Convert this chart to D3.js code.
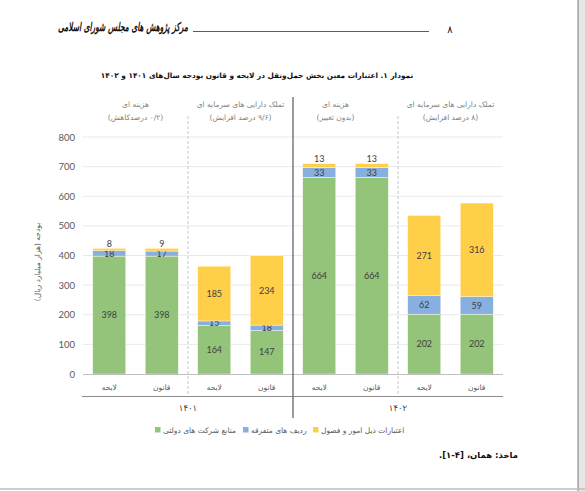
<!DOCTYPE html>
<html>
<head>
<meta charset="utf-8">
<script src="https://cdn.jsdelivr.net/npm/d3@7"></script>
<style>
html,body{margin:0;padding:0;background:#fff;}
svg{display:block;}
</style>
</head>
<body>
<svg id="chart" width="585" height="491"></svg>
<script>
// ---- data ----
const categories = ["لایحه","قانون","لایحه","قانون","لایحه","قانون","لایحه","قانون"];
const seriesNames = ["منابع شرکت های دولتی","ردیف های متفرقه","اعتبارات ذیل امور و فصول"];
const greenValues  = [398, 398, 164, 147, 664, 664, 202, 202];
const blueValues   = [18, 17, 15, 18, 33, 33, 62, 59];
const yellowValues = [8, 9, 185, 234, 13, 13, 271, 316];
const yTicks = [0,100,200,300,400,500,600,700,800];
const years = ["۱۴۰۱","۱۴۰۲"];
const groupTitles = ["هزینه ای","تملک دارایی های سرمایه ای","هزینه ای","تملک دارایی های سرمایه ای"];
const groupNotes = ["(۰/۲ درصدکاهش)","(۹/۶ درصد افزایش)","(بدون تغییر)","(۸ درصد افزایش)"];
const chartTitle = "نمودار ۱. اعتبارات معین بخش حمل‌ونقل در لایحه و قانون بودجه سال‌های ۱۴۰۱ و ۱۴۰۲";
const headerText = "مرکز پژوهش های مجلس شورای اسلامی";
const pageNumber = "۸";
const yAxisTitle = "بودجه (هزار میلیارد ریال)";
const sourceText = "ماخذ: همان، [۴-۱].";

const colors = ["#93c47a","#87afdf","#ffcf4a"];
const fa = "'DejaVu Sans', sans-serif";
const num = "Lato, 'Open Sans', sans-serif";

const svg = d3.select("#chart");

// page border
svg.append("rect").attr("x",578).attr("y",0).attr("width",7).attr("height",491).attr("fill","#e6e6e6");
svg.append("line").attr("x1",578).attr("x2",578).attr("y1",0).attr("y2",491).attr("stroke","#7a7a7a").attr("stroke-width",1);
svg.append("line").attr("x1",0).attr("x2",585).attr("y1",489).attr("y2",489).attr("stroke","#bdbdbd").attr("stroke-width",1.5);

function fit(sel, w){
  const n = sel.node();
  const cur = n.getComputedTextLength();
  if(cur>0){
    const fs = parseFloat(sel.attr("font-size"));
    sel.attr("font-size", fs*w/cur);
  }
  return sel;
}

// header (calligraphic look approximated: stretched vertically)
const hg = svg.append("g").attr("transform","translate(188,31) scale(1,1.6)");
fit(hg.append("text").attr("x",0).attr("y",0).attr("text-anchor","end")
  .attr("font-family",fa).attr("font-size",12).attr("font-weight","bold").attr("font-style","italic")
  .attr("fill","#111").text(headerText), 130);
svg.append("line").attr("x1",193).attr("x2",429).attr("y1",31.5).attr("y2",31.5).attr("stroke","#333").attr("stroke-width",0.8);
svg.append("text").attr("x",450).attr("y",33).attr("text-anchor","middle")
  .attr("font-family",fa).attr("font-size",10).attr("fill","#222").text(pageNumber);

// title
fit(svg.append("text").attr("x",257).attr("y",78).attr("text-anchor","middle")
  .attr("font-family",fa).attr("font-size",10).attr("font-weight","bold").attr("fill","#111")
  .attr("direction","rtl").text(chartTitle), 313);

// scales
const x = d3.scaleBand().domain(d3.range(categories.length)).range([83,503]).paddingInner(0.37).paddingOuter(0.185);
const y = d3.scaleLinear().domain([0,800]).range([374,137]);

// gridlines
svg.append("g").selectAll("line").data(yTicks.filter(d=>d>0)).join("line")
  .attr("x1",83).attr("x2",503).attr("y1",d=>y(d)).attr("y2",d=>y(d))
  .attr("stroke","#e3e3e3").attr("stroke-width",0.8);

// y axis labels
const yAxis = d3.axisLeft(y).tickValues(yTicks).tickSize(0).tickPadding(8);
const ga = svg.append("g").attr("transform","translate(83,0)").call(yAxis);
ga.select(".domain").remove();
ga.selectAll("text").attr("font-family",num).attr("font-size",9.5).attr("fill","#595959");

// stacked bars
const rows = categories.map((c,i)=>({i, g:greenValues[i], b:blueValues[i], yv:yellowValues[i]}));
const stack = d3.stack().keys(["g","b","yv"]);
const stacked = stack(rows);
const layers = svg.append("g").selectAll("g").data(stacked).join("g").attr("fill",(d,i)=>colors[i]);
layers.selectAll("rect").data(d=>d).join("rect")
  .attr("x",d=>x(d.data.i)).attr("width",x.bandwidth())
  .attr("y",d=>y(d[1])).attr("height",d=>y(d[0])-y(d[1]))
  .attr("stroke","#ffffff").attr("stroke-width",0.4);
layers.each(function(layer, li){
  d3.select(this).selectAll("text").data(layer).join("text")
    .attr("x",d=>x(d.data.i)+x.bandwidth()/2)
    .attr("y",d=>{
      const h = y(d[0])-y(d[1]);
      return (li===2 && h < 6) ? y(d[1]) - 4.6 : (y(d[0])+y(d[1]))/2;
    })
    .attr("dy","0.35em").attr("text-anchor","middle")
    .attr("font-family",num).attr("font-size",9).attr("fill","#404040")
    .text(d=>d[1]-d[0]);
});

// x axis line
svg.append("line").attr("x1",83).attr("x2",503).attr("y1",374.5).attr("y2",374.5).attr("stroke","#bfbfbf").attr("stroke-width",1);
// category labels
svg.append("g").selectAll("text").data(categories).join("text")
  .attr("x",(d,i)=>x(i)+x.bandwidth()/2).attr("y",390).attr("text-anchor","middle")
  .attr("font-family",fa).attr("font-size",7.5).attr("fill","#595959").text(d=>d);
// lower horizontal line
svg.append("line").attr("x1",82).attr("x2",503).attr("y1",396.5).attr("y2",396.5).attr("stroke","#8c8c8c").attr("stroke-width",1);

// separators
const midX = (a,b)=> (x(a)+x.bandwidth()+x(b))/2;
[[1,2],[5,6]].forEach(([a,b])=>{
  svg.append("line").attr("x1",midX(a,b)).attr("x2",midX(a,b)).attr("y1",116).attr("y2",396)
    .attr("stroke","#c8c8c8").attr("stroke-width",1).attr("stroke-dasharray","3,2");
});
svg.append("line").attr("x1",midX(3,4)).attr("x2",midX(3,4)).attr("y1",97).attr("y2",418)
  .attr("stroke","#595959").attr("stroke-width",1.2);

// year labels
years.forEach((t,k)=>{
  svg.append("text").attr("x",midX(k*4+1,k*4+2)).attr("y",411).attr("text-anchor","middle")
    .attr("font-family",fa).attr("font-size",8.5).attr("fill","#404040").text(t);
});

// group labels
const groupOffsets = [0,0,-10,0];
groupTitles.forEach((t,k)=>{
  const cx = (x(k*2)+x(k*2+1)+x.bandwidth())/2 + groupOffsets[k];
  svg.append("text").attr("x",cx).attr("y",107).attr("text-anchor","middle").attr("direction","rtl")
    .attr("font-family",fa).attr("font-size",7.5).attr("fill","#7f7f7f").text(t);
  svg.append("text").attr("x",cx).attr("y",120).attr("text-anchor","middle").attr("direction","rtl")
    .attr("font-family",fa).attr("font-size",7.5).attr("fill","#7f7f7f").text(groupNotes[k]);
});

// y axis title
svg.append("text").attr("transform","translate(40,262) rotate(-90)").attr("text-anchor","middle")
  .attr("direction","rtl").attr("font-family",fa).attr("font-size",7.5).attr("fill","#595959").text(yAxisTitle);

// legend
const legendX = [155,243,313];
seriesNames.forEach((s,i)=>{
  svg.append("rect").attr("x",legendX[i]).attr("y",427).attr("width",5.5).attr("height",5.5).attr("fill",colors[i]);
  svg.append("text").attr("x",legendX[i]+8).attr("y",433).attr("text-anchor","start")
    .attr("font-family",fa).attr("font-size",7.5).attr("fill","#595959").text(s);
});

// source (rtl: anchor "start" = right edge)
svg.append("text").attr("x",518).attr("y",458).attr("text-anchor","start").attr("direction","rtl")
  .attr("font-family",fa).attr("font-size",8.5).attr("font-weight","bold").attr("fill","#111").text(sourceText);
</script>
</body>
</html>
